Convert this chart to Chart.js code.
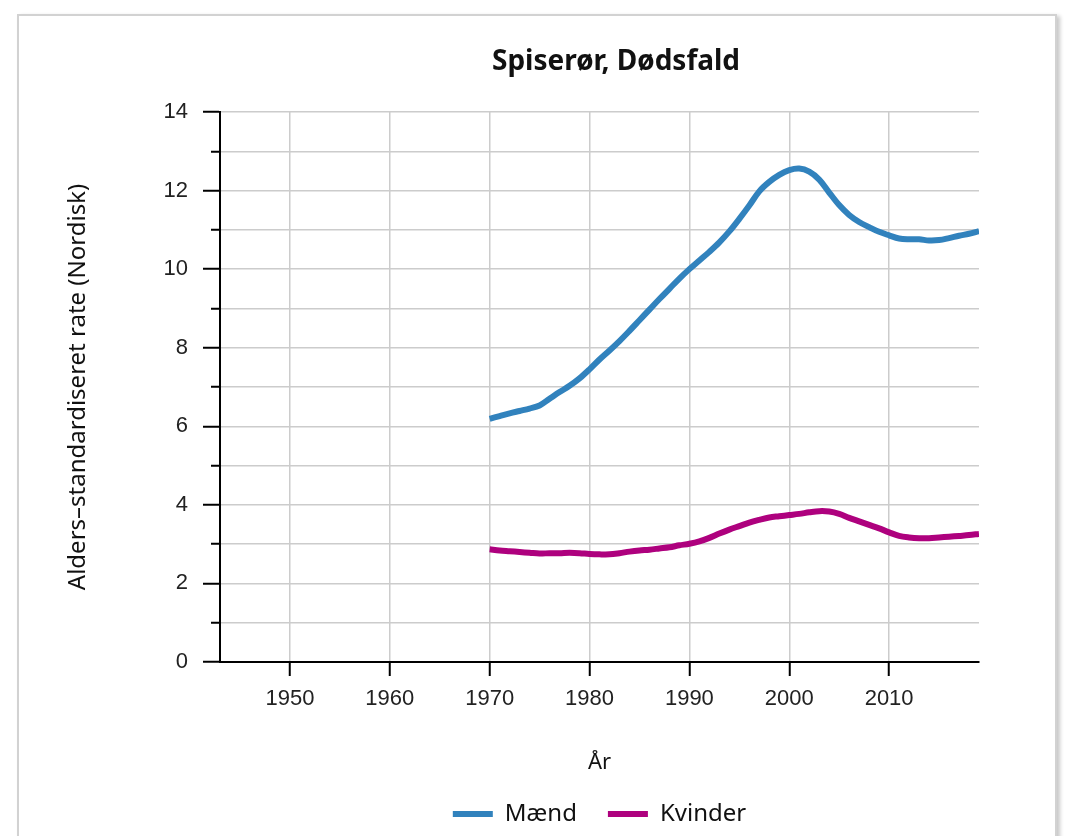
<!DOCTYPE html>
<html>
<head>
<meta charset="utf-8">
<script src="https://cdn.jsdelivr.net/npm/chart.js@4.4.1/dist/chart.umd.min.js"></script>
<style>
  html, body { margin: 0; padding: 0; background: #fff; }
  #card {
    position: absolute; left: 17px; top: 14px; width: 1036px; height: 900px;
    border: 2px solid #d2d2d2; box-shadow: 3px 2px 4px rgba(0,0,0,0.22);
    background: #fff;
  }
  #myChart { position: absolute; left: 0; top: 0; }
</style>
</head>
<body>
<div id="card"></div>
<canvas id="myChart" width="1074" height="836"></canvas>
<script>
"use strict";

// 데이터
const years = [1970, 1971, 1972, 1973, 1974, 1975, 1976, 1977, 1978, 1979,
  1980, 1981, 1982, 1983, 1984, 1985, 1986, 1987, 1988, 1989,
  1990, 1991, 1992, 1993, 1994, 1995, 1996, 1997, 1998, 1999,
  2000, 2001, 2002, 2003, 2004, 2005, 2006, 2007, 2008, 2009,
  2010, 2011, 2012, 2013, 2014, 2015, 2016, 2017, 2018, 2019];
const maend = [6.19, 6.26, 6.33, 6.39, 6.45, 6.53, 6.70, 6.87, 7.03, 7.22,
  7.45, 7.70, 7.93, 8.17, 8.43, 8.70, 8.97, 9.24, 9.50, 9.76,
  10.00, 10.22, 10.44, 10.68, 10.96, 11.28, 11.62, 11.98, 12.22, 12.40,
  12.52, 12.56, 12.48, 12.28, 11.95, 11.63, 11.38, 11.20, 11.07, 10.95,
  10.86, 10.78, 10.76, 10.76, 10.73, 10.74, 10.79, 10.85, 10.90, 10.97];
const kvinder = [2.87, 2.84, 2.82, 2.80, 2.78, 2.76, 2.77, 2.77, 2.78, 2.77,
  2.75, 2.74, 2.74, 2.77, 2.81, 2.84, 2.86, 2.89, 2.92, 2.97,
  3.01, 3.07, 3.16, 3.27, 3.37, 3.46, 3.55, 3.62, 3.68, 3.71,
  3.74, 3.77, 3.81, 3.84, 3.83, 3.77, 3.67, 3.58, 3.49, 3.40,
  3.30, 3.21, 3.17, 3.15, 3.15, 3.17, 3.19, 3.21, 3.23, 3.26];
const xTicks = [1950, 1960, 1970, 1980, 1990, 2000, 2010];
const yTickLabels = [0, 2, 4, 6, 8, 10, 12, 14];

const seriesNames = ['Mænd', 'Kvinder'];
const chartTitle = 'Spiserør, Dødsfald';

// 제목 그리기
const titlePlugin = {
  id: 'titlePlugin',
  afterDraw(chart) {
    const ctx = chart.ctx;
    ctx.save();
    ctx.font = 'bold 28px "Noto Sans"';
    ctx.fillStyle = '#111';
    ctx.textAlign = 'center';
    ctx.textBaseline = 'middle';
    ctx.fillText(chartTitle, 616, 62);
    ctx.restore();
  }
};

function toPoints(vals) {
  return years.map((y, i) => ({ x: y, y: vals[i] }));
}

const data = {
  datasets: [{
    label: seriesNames[0],
    data: toPoints(maend),
    borderColor: '#3182bd',
    backgroundColor: '#3182bd',
    borderWidth: 6,
  }, {
    label: seriesNames[1],
    data: toPoints(kvinder),
    borderColor: '#ae017e',
    backgroundColor: '#ae017e',
    borderWidth: 6,
  }]
};

const config = {
  type: 'line',
  data,
  options: {
    responsive: false,
    animation: false,
    layout: { padding: { top: 112, right: 95, bottom: 0, left: 0 } },
    elements: {
      line: { tension: 0.35, borderCapStyle: 'butt' },
      point: { radius: 0 }
    },
    plugins: {
      title: { display: false },
      tooltip: { enabled: false },
      legend: {
        position: 'bottom',
        fullSize: false,
        labels: {
          usePointStyle: true,
          pointStyle: 'line',
          pointStyleWidth: 40,
          boxHeight: 24,
          padding: 31,
          color: '#111',
          font: { family: '"Noto Sans"', size: 24 }
        }
      }
    },
    scales: {
      x: {
        type: 'linear',
        min: 1943,
        max: 2019,
        afterBuildTicks: (scale) => { scale.ticks = xTicks.map(v => ({ value: v })); },
        afterFit: (scale) => { scale.height = 109; },
        ticks: {
          callback: (v) => String(v),
          color: '#222',
          padding: 10,
          maxRotation: 0,
          font: { family: '"Liberation Sans"', size: 22 }
        },
        grid: {
          color: '#cccccc',
          lineWidth: 1.5,
          tickColor: '#000',
          tickWidth: 2,
          tickLength: 14
        },
        border: { color: '#000', width: 2 },
        title: {
          display: true,
          text: 'År',
          color: '#111',
          padding: { top: 0, bottom: -5 },
          font: { family: '"Noto Sans"', size: 22 }
        }
      },
      y: {
        min: 0,
        max: 14,
        afterFit: (scale) => { scale.width = 220; },
        ticks: {
          stepSize: 1,
          callback: (v) => yTickLabels.includes(v) ? String(v) : '',
          color: '#222',
          padding: 15,
          font: { family: '"Liberation Sans"', size: 22 }
        },
        grid: {
          color: '#cccccc',
          lineWidth: 1.5,
          tickColor: '#000',
          tickWidth: 2,
          tickLength: 17,
          // 짧은 눈금
          tickBorderDash: (ctx) => (ctx.tick && yTickLabels.includes(ctx.tick.value)) ? [] : [0, 8, 30, 0]
        },
        border: { color: '#000', width: 2 },
        title: {
          display: true,
          text: 'Alders–standardiseret rate (Nordisk)',
          color: '#111',
          padding: { top: 64, bottom: 0 },
          font: { family: '"Noto Sans"', size: 24 }
        }
      }
    }
  },
  plugins: [titlePlugin]
};

const myChart = new Chart(document.getElementById('myChart'), config);
</script>
</body>
</html>
